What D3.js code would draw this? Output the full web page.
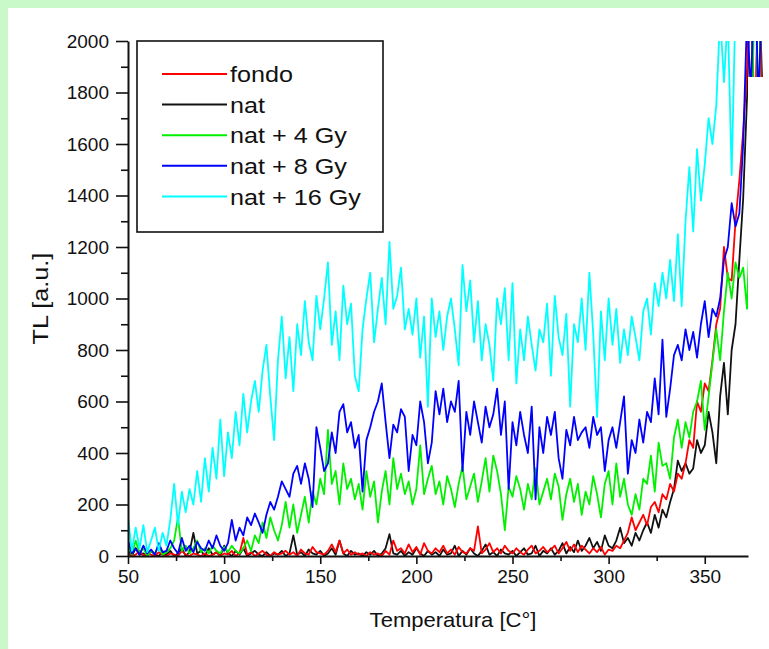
<!DOCTYPE html>
<html>
<head>
<meta charset="utf-8">
<script src="https://cdn.jsdelivr.net/npm/d3@7"></script>
<style>
  body { margin: 0; background: #c9f9c9; }
  svg { display: block; font-family: "Liberation Sans", Arial, sans-serif; }
  .axis path, .axis line { stroke: #111; }
  .axis text { fill: #111; }
  .line { fill: none; stroke-width: 1.8; stroke-linejoin: round; }
</style>
</head>
<body>
<svg width="769" height="649"></svg>
<script>
// temperature grid of the glow curves, every 2 C
const TEMPS = d3.range(50, 381, 2)

const X_TICKS = [50, 100, 150, 200, 250, 300, 350]
const X_MINOR = [75, 125, 175, 225, 275, 325]
const Y_TICKS = [0, 200, 400, 600, 800, 1000, 1200, 1400, 1600, 1800, 2000]
const Y_MINOR = [100, 300, 500, 700, 900, 1100, 1300, 1500, 1700, 1900]

const NAMES = ['fondo', 'nat', 'nat + 4 Gy', 'nat + 8 Gy', 'nat + 16 Gy']
const COLORS = ['#ff0000', '#111111', '#00f000', '#0000ff', '#00ffff']

const fondo = [
  10, 0, 5, 20, 0, 10, 5, 0, 15, 5,
  0, 10, 5, 0, 20, 5, 0, 10, 5, 0,
  10, 0, 5, 15, 0, 10, 5, 20, 0, 10,
  70, 5, 15, 0, 10, 20, 5, 0, 15, 5,
  10, 20, 5, 15, 0, 25, 10, 5, 35, 15,
  10, 5, 20, 45, 15, 60, 10, 25, 5, 15,
  5, 10, 0, 15, 5, 10, 0, 20, 5, 60,
  20, 30, 10, 45, 15, 35, 5, 50, 20, 10,
  30, 15, 40, 10, 25, 5, 35, 15, 10, 30,
  20, 115, 10, 25, 50, 15, 30, 10, 40, 20,
  10, 30, 15, 5, 25, 40, 10, 20, 35, 15,
  25, 40, 10, 30, 55, 20, 45, 15, 40, 25,
  10, 30, 15, 35, 5, 25, 20, 40, 30, 60,
  90, 150, 100, 130, 160, 120, 190, 210, 170, 240,
  220, 280, 250, 320, 300, 360, 450, 420, 600, 560,
  670, 640, 760, 900, 960, 1200, 1080, 1070, 1300, 1460,
  1650, 1890, 2300, 1600, 2300, 1700
]

const nat = [
  20, 0, 30, 5, 10, 0, 20, 5, 0, 15,
  5, 20, 0, 10, 30, 0, 15, 90, 10, 20,
  0, 30, 5, 15, 0, 40, 10, 0, 20, 5,
  30, 0, 10, 20, 5, 0, 15, 0, 10, 5,
  20, 0, 10, 80, 5, 15, 0, 25, 10, 5,
  20, 0, 10, 30, 5, 60, 10, 0, 20, 5,
  10, 0, 15, 5, 20, 0, 10, 30, 85, 10,
  5, 20, 0, 15, 5, 30, 10, 0, 20, 5,
  15, 0, 25, 5, 10, 40, 0, 20, 5, 30,
  10, 0, 20, 45, 5, 15, 0, 25, 10, 5,
  20, 0, 15, 30, 5, 10, 40, 0, 20, 10,
  30, 5, 20, 50, 10, 35, 15, 60, 20, 40,
  70, 30, 55, 20, 80, 40, 30, 60, 110, 50,
  70, 40, 90, 60, 100, 130, 90, 160, 110, 180,
  150, 210, 260, 370, 330, 360, 320, 340, 450, 400,
  430, 560, 480, 360, 620, 750, 550, 800, 900, 1150,
  1390, 1780, 2300, 1500, 2300, 1800
]

const nat4 = [
  40, 5, 60, 10, 30, 0, 20, 10, 40, 5,
  15, 30, 60, 150, 20, 40, 10, 30, 60, 15,
  30, 10, 40, 20, 10, 35, 15, 40, 20, 10,
  30, 60, 20, 80, 50, 130, 70, 150, 100, 60,
  120, 210, 110, 200, 90, 160, 230, 130, 250, 200,
  300, 240, 490, 280, 330, 200, 360, 260, 300, 220,
  280, 180, 330, 230, 290, 130, 250, 330, 200, 380,
  260, 320, 240, 290, 200, 260, 430, 240, 300, 350,
  240, 290, 200, 310, 260, 190, 280, 350, 220, 270,
  320, 210, 290, 380, 250, 390, 330, 240, 100, 270,
  230, 310, 260, 180, 280, 220, 340, 200, 250, 300,
  220, 320, 270, 140, 240, 300, 210, 280, 160, 250,
  200, 310, 240, 150, 280, 330, 200, 360, 230, 300,
  200, 160, 240, 180, 300, 280, 390, 250, 440, 350,
  360, 300, 460, 530, 420, 520, 460, 560, 600, 680,
  490, 620, 750, 880, 760, 950, 1100, 1000, 1140, 1080,
  1120, 960, 1400, 2300, 1700, 2300
]

const nat8 = [
  60, 10, 30, 5, 40, 10, 25, 5, 50, 15,
  20, 60, 30, 10, 70, 20, 40, 15, 55, 30,
  20, 60, 30, 80, 40, 20, 50, 140, 60, 110,
  80, 150, 120, 165, 130, 90, 160, 210, 180, 230,
  290, 260, 230, 320, 350, 280, 360, 300, 190, 500,
  420, 330, 360, 480, 400, 560, 590, 480, 520, 420,
  470, 250, 450, 500, 560, 600, 670, 520, 380, 510,
  480, 570, 540, 330, 470, 430, 600, 520, 360, 440,
  640, 550, 650, 520, 600, 560, 680, 330, 560, 470,
  600, 520, 440, 580, 500, 550, 650, 470, 600, 260,
  520, 430, 560, 470, 400, 580, 220, 500, 400, 540,
  470, 560, 380, 300, 490, 430, 540, 450, 480, 500,
  420, 540, 470, 500, 330, 450, 500, 420, 520, 620,
  320, 450, 400, 530, 440, 560, 520, 690, 550, 840,
  540, 650, 780, 820, 760, 880, 800, 870, 770, 900,
  990, 850, 960, 930, 1000, 1150, 1200, 1370, 1280, 1330,
  1600, 2100, 1800, 2300, 1750, 2300
]

const nat16 = [
  150, 20, 110, 30, 120, 15, 60, 110, 20, 90,
  40, 140, 280, 120, 250, 170, 260, 200, 330, 210,
  380, 250, 420, 300, 530, 310, 480, 380, 560, 430,
  630, 480, 600, 680, 560, 720, 820, 620, 450, 760,
  930, 690, 850, 640, 900, 780, 990, 830, 760, 1010,
  880, 1000, 1140, 820, 950, 760, 1050, 900, 980, 700,
  640, 880, 1000, 1100, 830, 960, 1080, 900, 1220, 960,
  1010, 1120, 880, 960, 860, 1000, 770, 930, 580, 1000,
  850, 950, 800, 930, 1000, 880, 740, 1130, 950, 1070,
  830, 990, 760, 900, 820, 680, 1000, 900, 1040, 760,
  1060, 670, 880, 760, 930, 820, 720, 880, 830, 980,
  700, 1010, 850, 780, 940, 580, 900, 830, 1000, 800,
  1100, 860, 540, 950, 760, 1000, 820, 960, 750, 880,
  780, 930, 850, 760, 950, 1000, 860, 1060, 970, 1100,
  1000, 1150, 990, 1250, 970, 1300, 1510, 1260, 1580, 1380,
  1520, 1700, 1600, 1750, 2100, 1840, 2100, 1480, 2150, 2200,
  2300, 2400, 2400, 2400, 2400, 2400
]

// drawing order: nat under fondo, the irradiated curves on top
const SERIES = [
  { name: NAMES[1], color: COLORS[1], values: nat },
  { name: NAMES[0], color: COLORS[0], values: fondo },
  { name: NAMES[2], color: COLORS[2], values: nat4 },
  { name: NAMES[3], color: COLORS[3], values: nat8 },
  { name: NAMES[4], color: COLORS[4], values: nat16 },
]

const X0 = 128, X1 = 748, Y0 = 556, Y1 = 41

const svg = d3.select("svg")

svg.append("rect")
  .attr("x", 8).attr("y", 8)
  .attr("width", 769 - 8).attr("height", 649 - 8)
  .attr("fill", "#fff")

const x = d3.scaleLinear().domain([50, 372.5]).range([X0, X1])
const y = d3.scaleLinear().domain([0, 2000]).range([Y0, Y1])

const line = d3.line()
  .x((d, i) => x(TEMPS[i]))
  .y(d => y(d))

// plot area plus the little strip the original lets through past the axis end
const clip = svg.append("clipPath").attr("id", "plot-clip")
clip.append("rect")
  .attr("x", X0).attr("y", Y1)
  .attr("width", X1 - X0).attr("height", Y0 - Y1)
clip.append("rect")
  .attr("x", X1).attr("y", Y1)
  .attr("width", 18).attr("height", 36)

svg.append("g")
  .attr("clip-path", "url(#plot-clip)")
  .selectAll("path")
  .data(SERIES)
  .join("path")
  .attr("class", "line")
  .attr("d", d => line(d.values))
  .style("stroke", d => d.color)

// x axis
const xAxis = svg.append("g")
  .attr("class", "axis")
  .attr("transform", `translate(0,${Y0})`)
xAxis.append("g")
  .call(d3.axisBottom(x).tickValues(X_MINOR).tickSize(5).tickFormat(""))
  .call(g => g.select(".domain").remove())
xAxis.append("g")
  .call(d3.axisBottom(x).tickValues(X_TICKS).tickSize(8).tickSizeOuter(0).tickPadding(6).tickFormat(d3.format("d")))
  .call(g => g.select(".domain").attr("stroke-width", 2))
xAxis.selectAll("line").attr("stroke-width", 1.6)
xAxis.selectAll("text").style("font-size", "19px")

// y axis
const yAxis = svg.append("g")
  .attr("class", "axis")
  .attr("transform", `translate(${X0},0)`)
yAxis.append("g")
  .call(d3.axisLeft(y).tickValues(Y_MINOR).tickSize(7).tickFormat(""))
  .call(g => g.select(".domain").remove())
yAxis.append("g")
  .call(d3.axisLeft(y).tickValues(Y_TICKS).tickSize(12).tickSizeOuter(0).tickPadding(7).tickFormat(d3.format("d")))
  .call(g => g.select(".domain").attr("stroke-width", 2))
yAxis.selectAll("line").attr("stroke-width", 1.6)
yAxis.selectAll("text").style("font-size", "19px")

// axis titles
svg.append("text")
  .attr("transform", `translate(${(X0 + X1) / 2 + 15},627) scale(1.05,1)`)
  .attr("text-anchor", "middle")
  .style("font-size", "21px")
  .attr("fill", "#111")
  .text("Temperatura [C°]")

svg.append("text")
  .attr("transform", `translate(48,${(Y0 + Y1) / 2}) rotate(-90) scale(1.15,1)`)
  .attr("text-anchor", "middle")
  .style("font-size", "22px")
  .attr("fill", "#111")
  .text("TL [a.u.]")

// legend
const legend = svg.append("g").attr("transform", "translate(137,41)")
legend.append("rect")
  .attr("width", 246).attr("height", 191)
  .attr("fill", "#fff")
  .attr("stroke", "#111")
  .attr("stroke-width", 1.6)

const item = legend.selectAll(".item")
  .data(NAMES)
  .join("g")
  .attr("class", "item")
  .attr("transform", (d, i) => `translate(0,${33 + i * 30.6})`)
item.append("line")
  .attr("x1", 25).attr("x2", 90)
  .attr("stroke", (d, i) => COLORS[i])
  .attr("stroke-width", 2)
item.append("text")
  .attr("transform", "translate(93,0) scale(1.12,1)")
  .attr("dy", "0.36em")
  .style("font-size", "22.5px")
  .attr("fill", "#111")
  .text(d => d)
</script>
</body>
</html>
